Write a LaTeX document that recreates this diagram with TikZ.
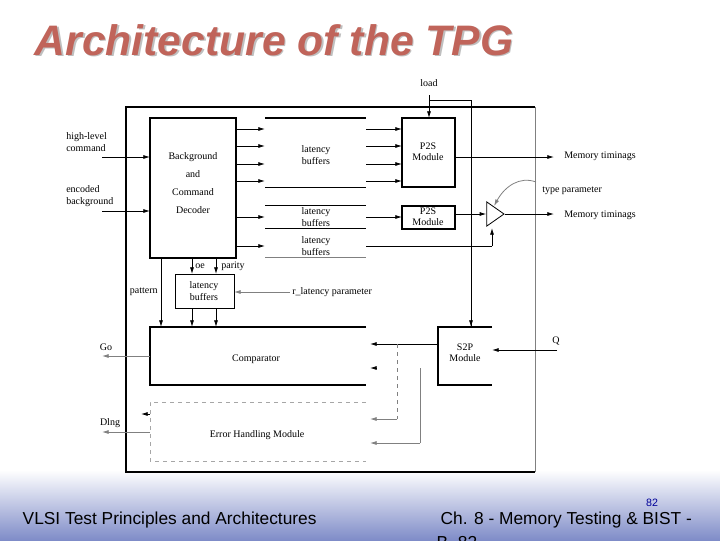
\documentclass[tikz,border=0pt]{standalone}
\usepackage{fontspec}
\setmainfont{Liberation Serif}
\newfontfamily\sansf{Liberation Sans}
\usetikzlibrary{arrows.meta,shapes.geometric}
\definecolor{titlec}{HTML}{C0645A}
\definecolor{bandtop}{HTML}{FFFFFF}
\definecolor{bandbot}{HTML}{7F8CC8}
\begin{document}
\begin{tikzpicture}[x=0.75pt,y=-0.75pt,
  lbl/.style={font=\fontsize{7.5}{8.5}\selectfont,inner sep=0pt,align=center},
  lbll/.style={lbl,anchor=west,align=left},
  blk/.style={draw,line width=0.9pt},
  ar/.style={-{Latex[length=5pt,width=3pt]},line width=0.6pt},
  ln/.style={line width=0.6pt}]
\useasboundingbox (0,0) rectangle (720,540);
\clip (0,0) rectangle (720,540);
\shade[top color=bandtop,bottom color=bandbot] (0,470) rectangle (720,540);
% title
\node[font=\sansf\bfseries\itshape\fontsize{32}{36}\selectfont,text=black!25,anchor=west] at (31.5,41.5) {Architecture of the TPG};
\node[font=\sansf\bfseries\itshape\fontsize{32}{36}\selectfont,text=titlec,anchor=west] (title) at (30,40) {Architecture of the TPG};
% footer
\node[font=\sansf\fontsize{13}{15}\selectfont,anchor=west] (f1) at (18,520) {VLSI Test Principles and Architectures};
\node[font=\sansf\fontsize{13}{15}\selectfont,anchor=west] (f2) at (436,520) {Ch. 8 - Memory Testing \& BIST -};
\node[font=\sansf\fontsize{13}{15}\selectfont,anchor=west] (f3) at (432,543) {B. 82};
\node[font=\sansf\fontsize{8}{9}\selectfont,text=blue!60!black] (pg) at (652,503) {82};
% outer box
\draw[line width=0.9pt] (535,107) -- (126,107) -- (126,472) -- (535,472);
\draw[line width=0.5pt,gray] (535,107) -- (535,472);
% decoder
\draw[blk] (150,118) rectangle (236,258);
\node[lbl,align=center] (dec) at (193,183) {Background\\[5pt]and\\[5pt]Command\\[5pt]Decoder};
% inputs
\node[lbll] (hlc) at (66,142) {high-level\\command};
\node[lbll] (eb) at (66,196) {encoded\\background};
\coordinate (hin) at (102,157); \coordinate (ein) at (102,211);
\draw[ar] (hin) -- (150,157);
\draw[ar] (ein) -- (150,211);
% latency buffer group 1
\draw[line width=1.2pt] (265,118) -- (366,118);
\draw[ln] (265,187) -- (366,187);
\node[lbl] (lb1) at (316,155) {latency\\buffers};
\foreach \yy in {129,146,164,181}{
  \draw[ar] (236,\yy) -- (265,\yy);
  \draw[ar] (366,\yy) -- (402,\yy);}
% P2S modules
\draw[blk] (402,118) rectangle (455,187);
\node[lbl] (p2s1) at (428,152) {P2S\\Module};
\draw[blk] (402,206) rectangle (455,229);
\node[lbl] (p2s2) at (428,217) {P2S\\Module};
% latency buffer group 2
\draw[ln] (265,205) -- (366,205);
\draw[ln] (265,228) -- (366,228);
\node[lbl] (lb2) at (316,217) {latency\\buffers};
\draw[ar] (236,217) -- (265,217);
\draw[ar] (366,217) -- (402,217);
% group 3
\draw[ln,gray] (265,257) -- (366,257);
\node[lbl] (lb3) at (316,246) {latency\\buffers};
\draw[ar] (236,246) -- (265,246);
% load
\node[lbl] (load) at (429,83) {load};
\draw[ar] (429,95) -- (429,118);
\draw[ln] (429,100) -- (471,100) -- (471,327);
\draw[ar] (471,300) -- (471,327);
% outputs
\node[lbll] (mt1) at (564,156) {Memory timinags};
\node[lbll] (mt2) at (564,215) {Memory timinags};
\draw[ar] (455,157) -- (554,157);
\node[isosceles triangle,draw,line width=0.6pt,minimum height=13pt,minimum width=14pt,inner sep=0pt,isosceles triangle apex angle=70] (tri) at (493,214) {};
\draw[ar] (455,214) -- (tri.west);
\draw[ar] (tri.apex) -- (554,214);
\draw[ln] (366,246) -- (492,246);
\draw[ar] (492,246) -- (492,228);
\node[lbll] (tp) at (542,191) {type parameter};
\draw[ar,gray] (536,182) .. controls (520,176) and (505,186) .. (494,206);
% oe parity
\draw[ar] (192,258) -- (192,274);
\draw[ar] (216,258) -- (216,274);
\node[lbl] (oe) at (200,266) {oe};
\node[lbl] (par) at (233,266) {parity};
\draw[ln] (175,274) rectangle (234,308);
\node[lbl] (lb4) at (204,291) {latency\\buffers};
\coordinate (rl) at (290,292);
\draw[ar,gray] (rl) -- (234,292);
\node[lbll] (rlt) at (292,292) {r\_latency parameter};
\draw[ar] (161,258) -- (161,327);
\node[lbl,anchor=east] (pat) at (158,292) {pattern};
\draw[ar] (192,308) -- (192,327);
\draw[ar] (216,308) -- (216,327);
% comparator
\draw[line width=0.9pt] (366,327) -- (150,327) -- (150,385) -- (366,385);
\node[lbl] (cmp) at (256,359) {Comparator};
\draw[ar,gray] (150,356) -- (102,356);
\node[lbl] (go) at (106,347) {Go};
% error handling
\draw[line width=0.6pt,gray!70,dashed] (366,402) -- (150,402) -- (150,461) -- (366,461);
\node[lbl] (ehm) at (257,435) {Error Handling Module};
\draw[ar,gray] (150,432) -- (102,432);
\node[lbl] (dlng) at (110,423) {Dlng};
\draw[ar] (150,414) -- (141,414);
% S2P
\draw[line width=0.9pt] (492,327) -- (438,327) -- (438,385) -- (492,385);
\node[lbl] (s2p) at (465,353) {S2P\\Module};
\draw[ar] (438,344) -- (370,344);
\draw[ln,gray,dashed] (397,344) -- (397,419);
\draw[ar,gray] (397,419) -- (370,419);
\draw[ar] (376,368) -- (370,368);
\draw[ln,gray] (420,368) -- (420,443);
\draw[ar,gray] (420,443) -- (370,443);
\coordinate (qin) at (557,350);
\draw[ar] (qin) -- (492,350);
\node[lbl] (q) at (556,341) {Q};
\end{tikzpicture}
\end{document}
